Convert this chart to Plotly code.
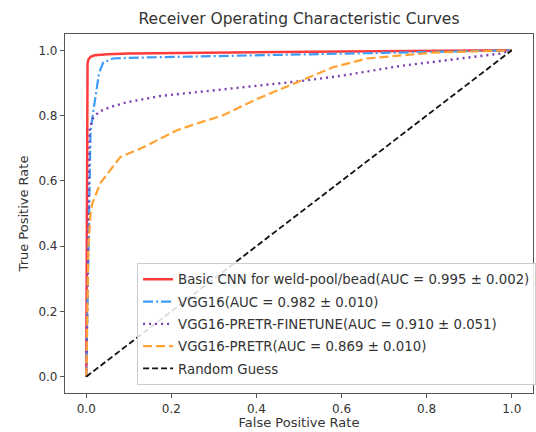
import plotly.graph_objects as go

# ROC data
cnn_fpr = [0, 0.003, 0.005, 0.01, 0.02, 0.05, 0.1, 0.2, 0.4, 0.6, 0.8, 1.0]
cnn_tpr = [0, 0.96, 0.972, 0.98, 0.985, 0.988, 0.99, 0.992, 0.994, 0.996, 0.998, 1.0]

vgg_fpr = [0, 0.01, 0.015, 0.021, 0.03, 0.04, 0.063, 0.1, 0.3, 0.6, 0.8, 1.0]
vgg_tpr = [0, 0.75, 0.8, 0.856, 0.93, 0.963, 0.975, 0.977, 0.982, 0.988, 0.993, 1.0]

ft_fpr = [0, 0.008, 0.016, 0.03, 0.056, 0.096, 0.174, 0.25, 0.4, 0.5, 0.6, 0.737, 0.85, 0.972, 1.0]
ft_tpr = [0, 0.76, 0.792, 0.812, 0.826, 0.841, 0.86, 0.87, 0.89, 0.905, 0.922, 0.952, 0.97, 0.99, 1.0]

pr_fpr = [0, 0.005, 0.01, 0.014, 0.033, 0.08, 0.134, 0.213, 0.27, 0.32, 0.4, 0.5, 0.58, 0.66, 0.815, 1.0]
pr_tpr = [0, 0.4, 0.5, 0.53, 0.593, 0.673, 0.703, 0.755, 0.78, 0.80, 0.85, 0.905, 0.948, 0.975, 0.993, 1.0]

rand_fpr = [0, 1]
rand_tpr = [0, 1]

names = [
    "Basic CNN for weld-pool/bead(AUC = 0.995 ± 0.002)",
    "VGG16(AUC = 0.982 ± 0.010)",
    "VGG16-PRETR-FINETUNE(AUC = 0.910 ± 0.051)",
    "VGG16-PRETR(AUC = 0.869 ± 0.010)",
    "Random Guess",
]

FONT = "DejaVu Sans"
TXT = "#333333"

fig = go.Figure()
fig.add_trace(go.Scatter(x=cnn_fpr, y=cnn_tpr, mode="lines", name=names[0], legendgroup="g0",
                         line=dict(color="#ff3b3b", width=2.5)))
fig.add_trace(go.Scatter(x=vgg_fpr, y=vgg_tpr, mode="lines", name=names[1], legendgroup="g1",
                         line=dict(color="#3d9cf5", width=2.2, dash="10px,3px,2px,3px")))
fig.add_trace(go.Scatter(x=ft_fpr, y=ft_tpr, mode="lines", name=names[2], legendgroup="g2",
                         line=dict(color="#7a40b0", width=2.4, dash="2px,4px")))
fig.add_trace(go.Scatter(x=pr_fpr, y=pr_tpr, mode="lines", name=names[3], legendgroup="g3",
                         line=dict(color="#ffa233", width=2.2, dash="9px,4px")))
fig.add_trace(go.Scatter(x=rand_fpr, y=rand_tpr, mode="lines", name=names[4], legendgroup="g4",
                         line=dict(color="#111111", width=1.8, dash="6px,3px")))

axis_common = dict(
    showgrid=False, zeroline=False, showline=True, mirror=True,
    linecolor="#555555", linewidth=1.2, ticks="outside", ticklen=4,
    tickcolor="#555555", tickfont=dict(family=FONT, size=12, color=TXT),
    range=[-0.05, 1.05], tickvals=[0, 0.2, 0.4, 0.6, 0.8, 1.0],
    ticktext=["0.0", "0.2", "0.4", "0.6", "0.8", "1.0"],
)

fig.update_layout(
    width=536, height=432,
    margin=dict(l=65, r=3, t=34, b=39, autoexpand=False),
    paper_bgcolor="white", plot_bgcolor="white",
    title=dict(text="Receiver Operating Characteristic Curves",
               font=dict(family=FONT, size=15.5, color=TXT),
               xref="paper", x=0.5, xanchor="center",
               yref="container", y=0.958, yanchor="middle"),
    xaxis=dict(axis_common, title=dict(text="False Positive Rate", standoff=3,
                                       font=dict(family=FONT, size=13, color=TXT))),
    yaxis=dict(axis_common, title=dict(text="True Positive Rate", standoff=6,
                                       font=dict(family=FONT, size=13, color=TXT))),
    legend=dict(x=0.154, y=0.022, xanchor="left", yanchor="bottom",
                bgcolor="rgba(255,255,255,0.85)", bordercolor="#cccccc", borderwidth=1,
                font=dict(family=FONT, size=13.3, color=TXT), itemwidth=30,
                traceorder="grouped", tracegroupgap=2),
    showlegend=True,
)

fig.write_html("out.html", config={"displayModeBar": False},
               post_script="document.body.style.margin='0';")
